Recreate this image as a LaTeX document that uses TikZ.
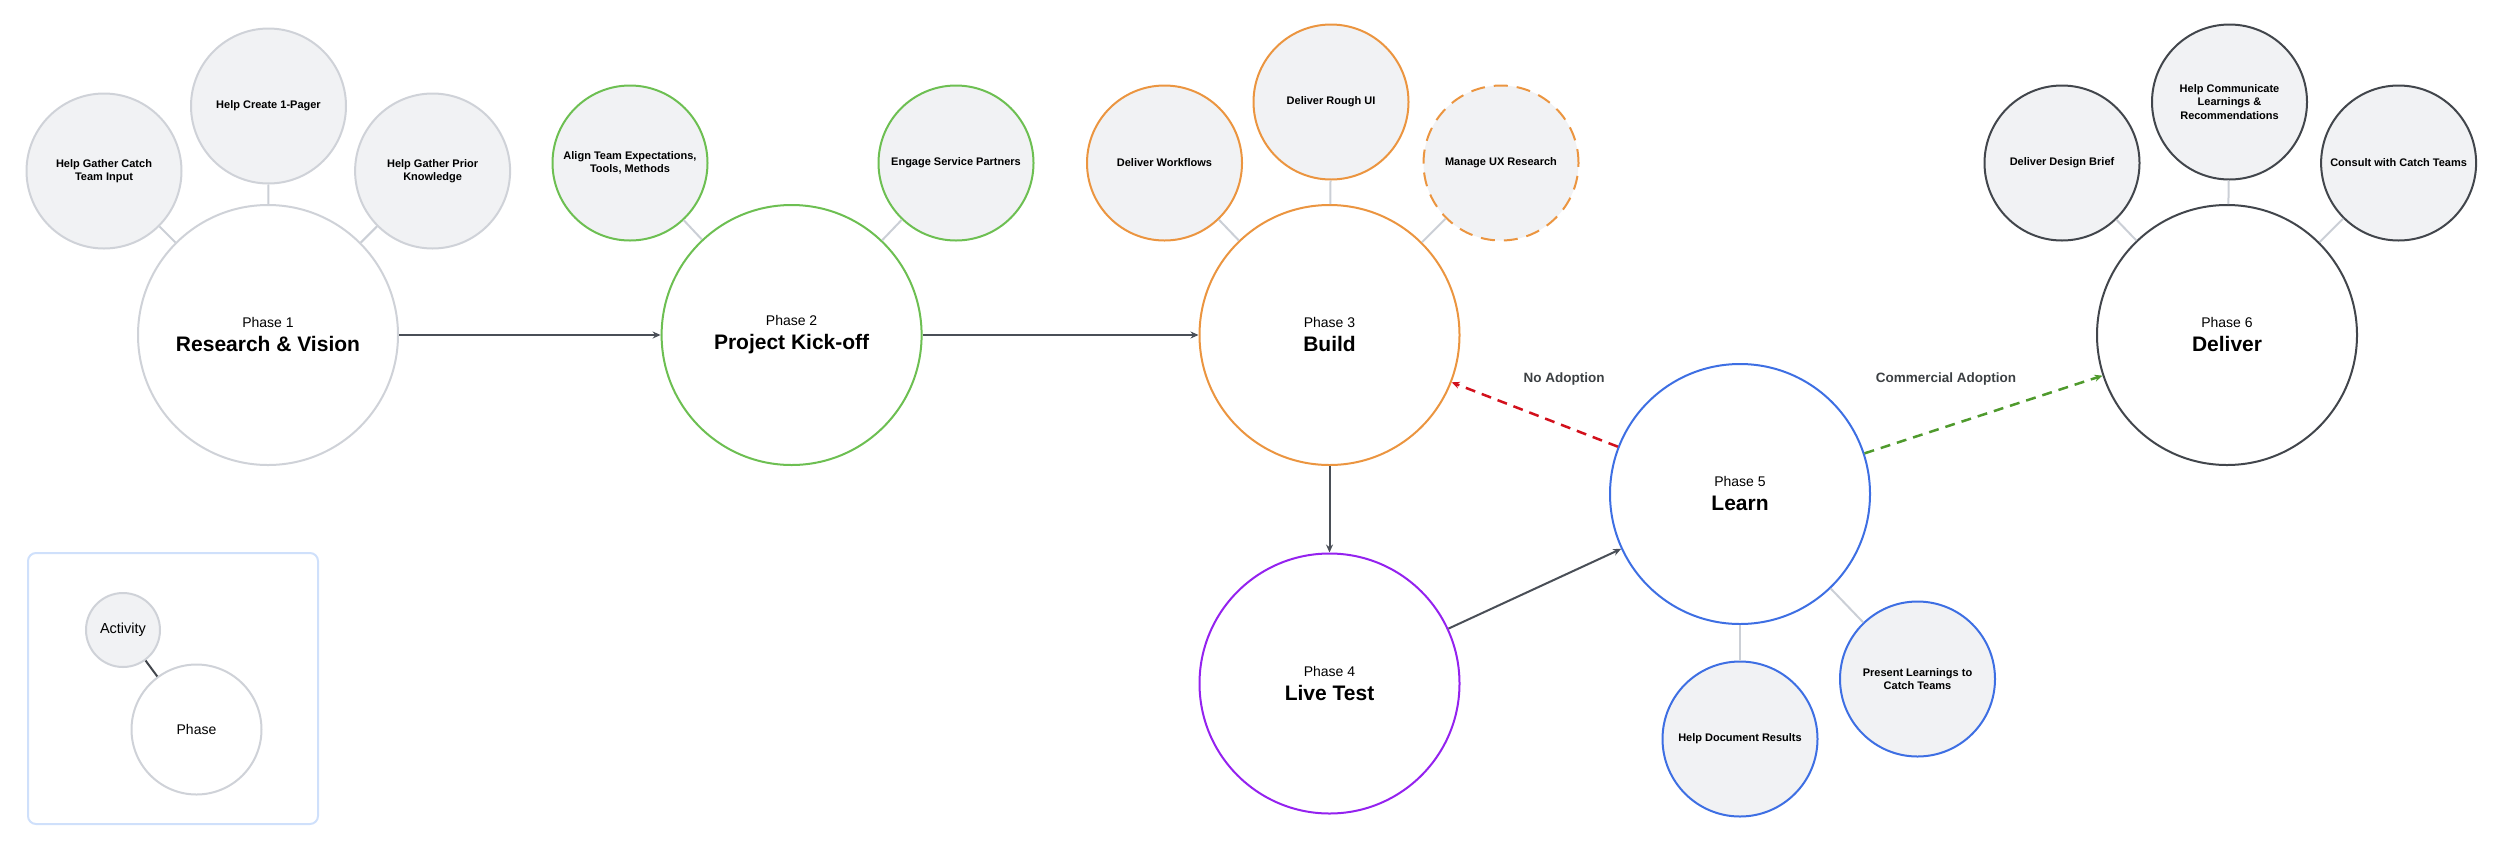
\documentclass[tikz,border=0pt]{standalone}
\usepackage{fontspec}
\setmainfont{Liberation Sans}
\usetikzlibrary{arrows.meta}
\definecolor{grayring}{HTML}{CFD2D8}
\definecolor{actfill}{HTML}{F1F2F4}
\definecolor{greenring}{HTML}{6DBF52}
\definecolor{orangering}{HTML}{EB9540}
\definecolor{purplering}{HTML}{9422EF}
\definecolor{bluering}{HTML}{3E6FE3}
\definecolor{darkring}{HTML}{42464C}
\definecolor{linkgray}{HTML}{CBCFD6}
\definecolor{arrowgray}{HTML}{4A4F57}
\definecolor{redflow}{HTML}{D2101C}
\definecolor{greenflow}{HTML}{4F9A2D}
\definecolor{legendblue}{HTML}{CFE0FB}
\definecolor{labelgray}{HTML}{3C4043}
\begin{document}
\begin{tikzpicture}[x=1pt,y=-1pt,
  phasebox/.style={circle, draw=#1, line width=2pt, fill=white, minimum size=260pt, inner sep=0pt, align=center, font=\fontsize{14}{24}\selectfont},
  actbox/.style={circle, draw=#1, line width=2pt, fill=actfill, minimum size=155pt, inner sep=0pt, align=center, font=\fontsize{11}{13.5}\selectfont\bfseries},
  link/.style={draw=linkgray, line width=2pt},
  flow/.style={draw=arrowgray, line width=2pt, -{Stealth[length=8pt,width=7pt]}},
  dflow/.style={draw=#1, line width=2.5pt, dash pattern=on 10pt off 7pt, -{Stealth[length=8pt,width=7pt]}},
  edgelabel/.style={text=labelgray, font=\fontsize{13.5}{16}\selectfont\bfseries}
]
\useasboundingbox (0,0) rectangle (2500,855);

% Phase 1
\node[phasebox=grayring] (p1) at (268,335) {Phase 1\\{\fontsize{21}{24}\selectfont\bfseries Research \& Vision}};
\node[actbox=grayring] (a11) at (104,171) {Help Gather Catch\\Team Input};
\node[actbox=grayring] (a12) at (268.5,106) {Help Create 1-Pager};
\node[actbox=grayring] (a13) at (432.6,171) {Help Gather Prior\\Knowledge};

% Phase 2
\node[phasebox=greenring] (p2) at (791.6,335) {Phase 2\\{\fontsize{21}{24}\selectfont\bfseries Project Kick-off}};
\node[actbox=greenring] (a21) at (630,163) {Align Team Expectations,\\Tools, Methods};
\node[actbox=greenring] (a22) at (956,163) {Engage Service Partners};

% Phase 3
\node[phasebox=orangering] (p3) at (1329.5,335) {Phase 3\\{\fontsize{21}{24}\selectfont\bfseries Build}};
\node[actbox=orangering] (a31) at (1164.5,163) {Deliver Workflows};
\node[actbox=orangering] (a32) at (1331,102) {Deliver Rough UI};
\node[actbox=orangering, dash pattern=on 14pt off 9pt] (a33) at (1501,163) {Manage UX Research};

% Phase 4
\node[phasebox=purplering] (p4) at (1329.5,683.5) {Phase 4\\{\fontsize{21}{24}\selectfont\bfseries Live Test}};

% Phase 5
\node[phasebox=bluering] (p5) at (1740,494) {Phase 5\\{\fontsize{21}{24}\selectfont\bfseries Learn}};
\node[actbox=bluering] (a51) at (1740,739) {Help Document Results};
\node[actbox=bluering] (a52) at (1917.5,679) {Present Learnings to\\Catch Teams};

% Phase 6
\node[phasebox=darkring] (p6) at (2227,335) {Phase 6\\{\fontsize{21}{24}\selectfont\bfseries Deliver}};
\node[actbox=darkring] (a61) at (2062,163) {Deliver Design Brief};
\node[actbox=darkring] (a62) at (2229.5,102) {Help Communicate\\Learnings \&\\Recommendations};
\node[actbox=darkring] (a63) at (2398.6,163) {Consult with Catch Teams};

% activity links
\draw[link] (a11) -- (p1);
\draw[link] (a12) -- (p1);
\draw[link] (a13) -- (p1);
\draw[link] (a21) -- (p2);
\draw[link] (a22) -- (p2);
\draw[link] (a31) -- (p3);
\draw[link] (a32) -- (p3);
\draw[link] (a33) -- (p3);
\draw[link] (a51) -- (p5);
\draw[link] (a52) -- (p5);
\draw[link] (a61) -- (p6);
\draw[link] (a62) -- (p6);
\draw[link] (a63) -- (p6);

% flows
\draw[flow] (p1) -- (p2);
\draw[flow] (p2) -- (p3);
\draw[flow] (p3) -- (p4);
\draw[flow] (p4) -- (p5);
\draw[dflow=redflow] (p5) -- (p3);
\draw[dflow=greenflow] (p5) -- (p6);

\node[edgelabel] (lab1) at (1564,379) {No Adoption};
\node[edgelabel] (lab2) at (1946,379) {Commercial Adoption};

% legend
\node[draw=legendblue, line width=2pt, rounded corners=8pt, minimum width=290pt, minimum height=271pt, inner sep=0pt] (legend) at (173,688.5) {};
\node[circle, draw=grayring, line width=2pt, fill=actfill, minimum size=74pt, inner sep=0pt, font=\fontsize{14.5}{17}\selectfont] (lact) at (123,630) {Activity};
\node[circle, draw=grayring, line width=2pt, fill=white, minimum size=130pt, inner sep=0pt, font=\fontsize{14}{17}\selectfont] (lphase) at (196.5,729.5) {Phase};
\draw[draw=darkring, line width=2pt] (lact) -- (lphase);
\end{tikzpicture}
\end{document}
